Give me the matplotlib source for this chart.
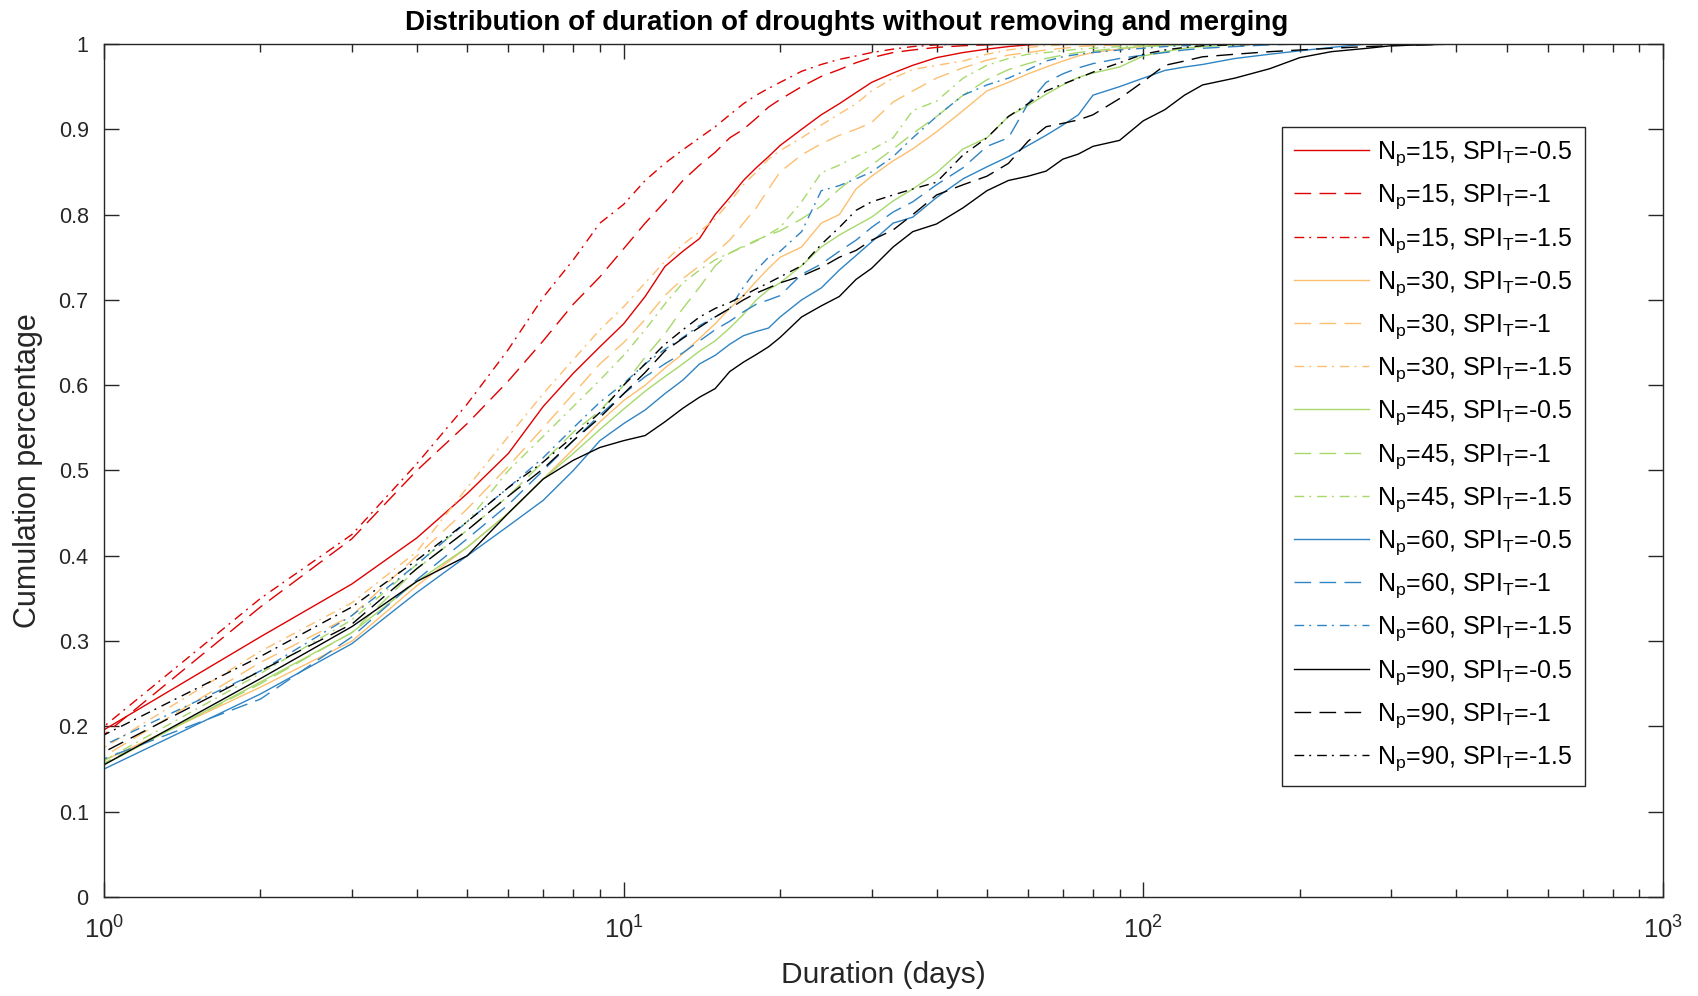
import matplotlib
matplotlib.use('Agg')
import matplotlib.pyplot as plt
from matplotlib.ticker import LogLocator, NullFormatter

plt.rcParams['font.family'] = ['Liberation Sans', 'DejaVu Sans']
plt.rcParams['mathtext.fontset'] = 'custom'
plt.rcParams['mathtext.rm'] = 'Liberation Sans'
plt.rcParams['mathtext.it'] = 'Liberation Sans:italic'
plt.rcParams['mathtext.bf'] = 'Liberation Sans:bold'
plt.rcParams['mathtext.default'] = 'regular'

# ---------------- data ----------------
durations = [1, 2, 3, 4, 5, 6, 7, 8, 9, 10, 11, 12, 13, 14, 15, 16, 17, 18, 19, 20,
             22, 24, 26, 28, 30, 33, 36, 40, 45, 50, 55, 60, 65, 70, 75, 80, 90, 100,
             110, 120, 130, 150, 175, 200, 230, 270, 300, 400]

cdf_15_05 = [0.196, 0.305, 0.367, 0.421, 0.473, 0.52, 0.575, 0.614, 0.645, 0.672, 0.704, 0.739, 0.757, 0.772, 0.80, 0.82, 0.84, 0.855, 0.868, 0.881,
             0.90, 0.917, 0.93, 0.943, 0.955, 0.966, 0.975, 0.984, 0.99, 0.994, 0.997, 0.999, 1.0]
cdf_15_10 = [0.19, 0.34, 0.42, 0.50, 0.555, 0.605, 0.652, 0.695, 0.727, 0.76, 0.79, 0.815, 0.84, 0.858, 0.873, 0.89, 0.90, 0.913, 0.926, 0.935,
             0.95, 0.962, 0.97, 0.978, 0.984, 0.99, 0.993, 0.996, 0.998, 0.999, 1.0]
cdf_15_15 = [0.20, 0.35, 0.425, 0.508, 0.578, 0.642, 0.703, 0.747, 0.79, 0.812, 0.84, 0.86, 0.876, 0.89, 0.903, 0.917, 0.93, 0.94, 0.948, 0.955,
             0.968, 0.976, 0.982, 0.986, 0.99, 0.994, 0.997, 0.999, 1.0]
cdf_30_05 = [0.16, 0.246, 0.30, 0.365, 0.41, 0.45, 0.49, 0.525, 0.557, 0.582, 0.60, 0.62, 0.637, 0.655, 0.672, 0.69, 0.705, 0.722, 0.737, 0.75,
             0.762, 0.79, 0.80, 0.83, 0.845, 0.863, 0.877, 0.897, 0.922, 0.945, 0.955, 0.965, 0.973, 0.98, 0.986, 0.99, 0.994, 0.997, 0.999, 1.0]
cdf_30_10 = [0.165, 0.275, 0.33, 0.40, 0.455, 0.505, 0.55, 0.59, 0.625, 0.65, 0.677, 0.705, 0.725, 0.74, 0.755, 0.77, 0.79, 0.808, 0.83, 0.85,
             0.87, 0.883, 0.893, 0.90, 0.908, 0.932, 0.945, 0.96, 0.972, 0.981, 0.987, 0.99, 0.993, 0.995, 0.997, 0.998, 0.999, 1.0]
cdf_30_15 = [0.175, 0.288, 0.345, 0.405, 0.48, 0.54, 0.59, 0.63, 0.665, 0.692, 0.72, 0.745, 0.765, 0.78, 0.795, 0.815, 0.835, 0.85, 0.865, 0.875,
             0.89, 0.905, 0.918, 0.93, 0.945, 0.96, 0.97, 0.975, 0.98, 0.988, 0.993, 0.996, 0.998, 0.999, 1.0]
cdf_45_05 = [0.155, 0.252, 0.31, 0.37, 0.41, 0.45, 0.49, 0.52, 0.548, 0.572, 0.593, 0.61, 0.625, 0.64, 0.652, 0.667, 0.683, 0.70, 0.712, 0.72,
             0.74, 0.762, 0.776, 0.787, 0.797, 0.816, 0.83, 0.849, 0.877, 0.89, 0.915, 0.928, 0.941, 0.952, 0.961, 0.966, 0.973, 0.986, 0.991, 0.995,
             0.997, 0.999, 1.0]
cdf_45_10 = [0.157, 0.25, 0.31, 0.385, 0.43, 0.47, 0.51, 0.545, 0.57, 0.60, 0.633, 0.66, 0.69, 0.715, 0.74, 0.755, 0.763, 0.77, 0.776, 0.781,
             0.795, 0.81, 0.83, 0.845, 0.858, 0.877, 0.895, 0.915, 0.94, 0.958, 0.97, 0.977, 0.983, 0.987, 0.99, 0.992, 0.995, 0.997, 0.998, 0.999,
             1.0]
cdf_45_15 = [0.16, 0.262, 0.325, 0.39, 0.44, 0.50, 0.54, 0.575, 0.606, 0.635, 0.665, 0.695, 0.72, 0.735, 0.747, 0.755, 0.762, 0.769, 0.777, 0.785,
             0.815, 0.849, 0.858, 0.868, 0.876, 0.89, 0.922, 0.933, 0.96, 0.975, 0.983, 0.988, 0.99, 0.992, 0.994, 0.995, 0.997, 0.998, 0.999, 1.0]
cdf_60_05 = [0.15, 0.238, 0.297, 0.357, 0.40, 0.435, 0.465, 0.50, 0.535, 0.555, 0.571, 0.59, 0.606, 0.625, 0.635, 0.648, 0.658, 0.663, 0.667, 0.68,
             0.70, 0.714, 0.735, 0.752, 0.768, 0.79, 0.797, 0.82, 0.842, 0.856, 0.868, 0.881, 0.893, 0.905, 0.917, 0.94, 0.95, 0.96, 0.969, 0.973,
             0.976, 0.983, 0.988, 0.992, 0.996, 1.0]
cdf_60_10 = [0.162, 0.232, 0.305, 0.372, 0.42, 0.46, 0.50, 0.535, 0.565, 0.59, 0.61, 0.625, 0.638, 0.652, 0.665, 0.675, 0.686, 0.695, 0.70, 0.705,
             0.73, 0.742, 0.757, 0.77, 0.785, 0.803, 0.815, 0.835, 0.855, 0.88, 0.89, 0.93, 0.955, 0.965, 0.972, 0.977, 0.983, 0.987, 0.99, 0.993,
             0.995, 0.997, 0.999, 1.0]
cdf_60_15 = [0.178, 0.265, 0.33, 0.39, 0.44, 0.48, 0.515, 0.55, 0.58, 0.602, 0.625, 0.642, 0.656, 0.67, 0.68, 0.69, 0.715, 0.735, 0.75, 0.757,
             0.78, 0.828, 0.834, 0.842, 0.85, 0.868, 0.89, 0.915, 0.94, 0.952, 0.96, 0.97, 0.98, 0.985, 0.988, 0.99, 0.993, 0.995, 0.997, 0.998,
             0.999, 1.0]
cdf_90_05 = [0.155, 0.256, 0.317, 0.37, 0.40, 0.45, 0.49, 0.512, 0.527, 0.535, 0.541, 0.557, 0.573, 0.586, 0.596, 0.616, 0.627, 0.636, 0.645, 0.656,
             0.68, 0.693, 0.704, 0.724, 0.737, 0.762, 0.78, 0.789, 0.808, 0.828, 0.84, 0.845, 0.851, 0.865, 0.871, 0.88, 0.887, 0.91, 0.923, 0.94,
             0.952, 0.96, 0.971, 0.984, 0.991, 0.995, 0.998, 1.0]
cdf_90_10 = [0.17, 0.265, 0.32, 0.385, 0.43, 0.47, 0.502, 0.535, 0.562, 0.59, 0.615, 0.64, 0.655, 0.668, 0.68, 0.69, 0.70, 0.708, 0.714, 0.72,
             0.728, 0.738, 0.75, 0.758, 0.77, 0.782, 0.80, 0.823, 0.835, 0.845, 0.86, 0.886, 0.903, 0.907, 0.911, 0.917, 0.936, 0.956, 0.975, 0.98,
             0.985, 0.988, 0.991, 0.993, 0.995, 0.997, 0.998, 1.0]
cdf_90_15 = [0.19, 0.282, 0.34, 0.395, 0.44, 0.48, 0.51, 0.54, 0.568, 0.60, 0.625, 0.648, 0.665, 0.68, 0.69, 0.697, 0.705, 0.713, 0.72, 0.727,
             0.74, 0.765, 0.785, 0.805, 0.815, 0.823, 0.83, 0.838, 0.87, 0.89, 0.915, 0.93, 0.945, 0.953, 0.96, 0.967, 0.978, 0.988, 0.993, 0.996,
             0.998, 0.999, 1.0]

series_np = [15, 15, 15, 30, 30, 30, 45, 45, 45, 60, 60, 60, 90, 90, 90]
series_spi = ['-0.5', '-1', '-1.5'] * 5
series_cdf = [cdf_15_05, cdf_15_10, cdf_15_15, cdf_30_05, cdf_30_10, cdf_30_15,
              cdf_45_05, cdf_45_10, cdf_45_15, cdf_60_05, cdf_60_10, cdf_60_15,
              cdf_90_05, cdf_90_10, cdf_90_15]

ytick_values = [0, 0.1, 0.2, 0.3, 0.4, 0.5, 0.6, 0.7, 0.8, 0.9, 1]
ytick_labels = ['0', '0.1', '0.2', '0.3', '0.4', '0.5', '0.6', '0.7', '0.8', '0.9', '1']

title_text = 'Distribution of duration of droughts without removing and merging'
xlabel_text = 'Duration (days)'
ylabel_text = 'Cumulation percentage'

# ---------------- style ----------------
np_colors = {15: '#e00000', 30: '#fdbf6f', 45: '#a6d96a', 60: '#2f84c4', 90: '#000000'}
spi_styles = {'-0.5': '-', '-1': (0, (12, 6)), '-1.5': (0, (7, 3.6, 1.4, 4.3))}
axis_color = '#262626'

fig = plt.figure(figsize=(16.99, 9.96), dpi=100)
W, H = 1699, 996
L, R, T, B = 104, 1663, 44, 897
ax = fig.add_axes([L / W, 1 - B / H, (R - L) / W, (B - T) / H])

handles = []
labels = []
for npv, spi, cdf in zip(series_np, series_spi, series_cdf):
    xs = [durations[0]] + durations[:len(cdf)]
    ys = [0.0] + cdf
    ln, = ax.plot(xs, ys, color=np_colors[npv], linestyle=spi_styles[spi], linewidth=1.0)
    handles.append(ln)
    labels.append('N$_p$=%d, SPI$_T$=%s' % (npv, spi))

ax.set_xscale('log')
ax.set_xlim(1, 1000)
ax.set_ylim(0, 1)
ax.set_yticks(ytick_values)
ax.set_yticklabels(ytick_labels)
ax.xaxis.set_major_locator(LogLocator(base=10, numticks=10))
ax.xaxis.set_minor_locator(LogLocator(base=10, subs=range(2, 10), numticks=20))
ax.xaxis.set_minor_formatter(NullFormatter())

for s in ax.spines.values():
    s.set_color(axis_color)
    s.set_linewidth(1.0)

ax.tick_params(which='both', direction='in', top=True, right=True, color=axis_color, labelcolor=axis_color, width=1.0)
ax.tick_params(which='major', length=11)
ax.tick_params(which='minor', length=5.5)
ax.tick_params(axis='y', labelsize=15.5, pad=11)
ax.tick_params(axis='x', labelsize=18.5, pad=14)

ax.set_title(title_text, fontsize=20, fontweight='bold', color='black', pad=10)
ax.title.set_x((847 - L) / (R - L))
ax.set_xlabel(xlabel_text, fontsize=21.5, color=axis_color)
ax.set_ylabel(ylabel_text, fontsize=22, color=axis_color)
ax.xaxis.set_label_coords(0.5, -(975 - B) / (B - T))
ax.xaxis.label.set_va('center')
ax.yaxis.set_label_coords(-(L - 28) / (R - L), 0.5)
ax.yaxis.label.set_va('center')

leg = ax.legend(handles, labels, loc='upper right',
                bbox_to_anchor=((1585 - L) / (R - L), (B - 127) / (B - T)),
                borderaxespad=0, fontsize=18, handlelength=3.0, handletextpad=0.3,
                labelspacing=0.58, borderpad=0.5, frameon=True, fancybox=False,
                edgecolor=axis_color, framealpha=1)
leg.get_frame().set_linewidth(1.0)

fig.savefig('out.png', dpi=100)
